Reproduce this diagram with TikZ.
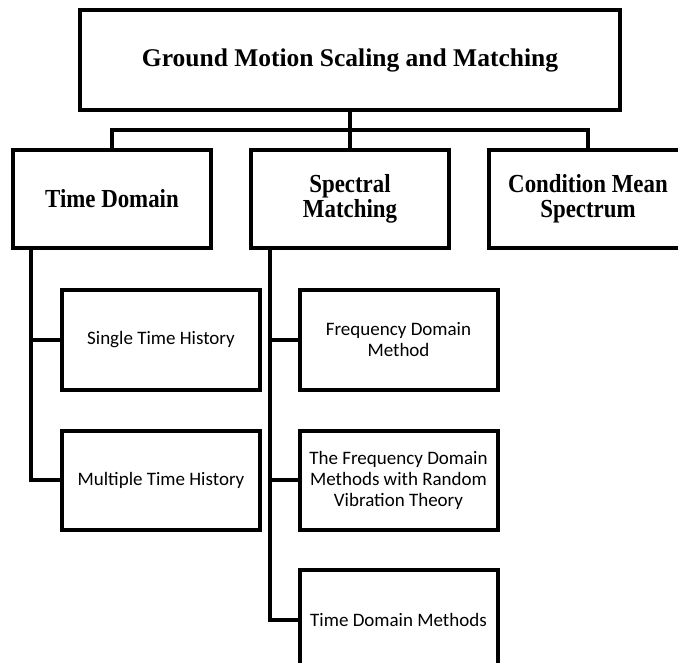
\documentclass[tikz,border=0pt]{standalone}
\usepackage{fontspec}
\setmainfont{Liberation Serif}
\newfontfamily\headfont{Liberation Serif}[FakeStretch=0.88]
\newfontfamily\calfont{Carlito}
\usepackage{tikz}
\usetikzlibrary{positioning}

\begin{document}
\begin{tikzpicture}[
    x=1pt, y=-1pt,
    topbox/.style={rectangle, draw, line width=4pt, minimum width=540pt, minimum height=100pt, align=center, font=\bfseries\fontsize{25.5}{30}\selectfont},
    midbox/.style={rectangle, draw, line width=4pt, minimum width=198pt, minimum height=98pt, align=center, font=\headfont\bfseries\fontsize{26}{25}\selectfont},
    leafbox/.style={rectangle, draw, line width=4pt, minimum width=198pt, minimum height=99pt, align=center, font=\calfont\fontsize{19}{21}\selectfont},
    link/.style={line width=3.2pt}
]
\useasboundingbox (0,0) rectangle (678,663);

% Root
\node[topbox] (gms) at (350,60) {Ground Motion Scaling and Matching};

% Second level
\node[midbox] (td) at (112,199) {Time Domain};
\node[midbox] (sm) at (350,199) {Spectral\\Matching};
\node[midbox] (cms) at (588,199) {Condition Mean\\Spectrum};

% Time domain leaves
\node[leafbox] (sth) at (161,340) {Single Time History};
\node[leafbox] (mth) at (161,480) {Multiple Time History};

% Spectral matching leaves
\node[leafbox] (fdm) at (398.5,340) {Frequency Domain\\Method};
\node[leafbox] (rvt) at (398.5,480) {The Frequency Domain\\Methods with Random\\Vibration Theory};
\node[leafbox, minimum height=100pt] (tdm) at (398.5,620) {Time Domain Methods};

% Root bus
\coordinate (bus) at (350,130);
\draw[link] (gms.south) -- (bus) -| (td.north);
\draw[link] (bus) -| (cms.north);
\draw[link] (bus) -- (sm.north);

% Branches
\draw[link] ([xshift=20pt]td.south west) |- (sth.west);
\draw[link] ([xshift=20pt]td.south west) |- (mth.west);
\draw[link] ([xshift=21pt]sm.south west) |- (fdm.west);
\draw[link] ([xshift=21pt]sm.south west) |- (rvt.west);
\draw[link] ([xshift=21pt]sm.south west) |- (tdm.west);

\end{tikzpicture}
\end{document}
